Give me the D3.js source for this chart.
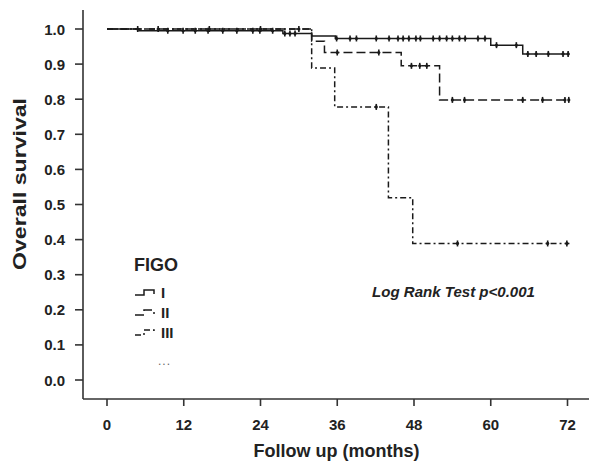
<!DOCTYPE html>
<html>
<head>
<meta charset="utf-8">
<script src="https://cdn.jsdelivr.net/npm/d3@7"></script>
<style>
  body { margin: 0; background: #fff; }
  svg { display: block; }
  text { font-family: "Liberation Sans", Arial, sans-serif; }
</style>
</head>
<body>
<svg id="chart" width="590" height="465"></svg>
<script>
// ---------- data ----------
const xTicks = [0, 12, 24, 36, 48, 60, 72];
const yTicks = [0, 0.1, 0.2, 0.3, 0.4, 0.5, 0.6, 0.7, 0.8, 0.9, 1.0];
const stageNames = ["I", "II", "III"];

const stageI_times = [0, 5, 27.5, 32, 35.7, 60, 65];
const stageI_surv  = [1, 0.995, 0.987, 0.98, 0.973, 0.954, 0.929];
const stageI_censor = [4.8, 9.5, 11.9, 13.8, 15.8, 18.1, 20.3, 22.8, 23.9, 25.9, 27.8, 28.6, 29.4,
  35.9, 38, 39, 42.1, 44.1, 45.5, 46.3, 47.2, 48.3, 49, 51, 52, 53.1, 54, 55.1, 56, 58, 59.1,
  60.9, 64, 65.8, 67.1, 69, 71.3, 72.1];

const stageII_times = [0, 32, 34, 46, 52];
const stageII_surv  = [1, 0.965, 0.933, 0.895, 0.798];
const stageII_censor = [8, 16, 24, 30, 36, 42.5, 47.6, 48.9, 50, 54, 55.9, 65, 68.1, 71.6, 72.2];

const stageIII_times = [0, 32, 35.6, 44, 47.8];
const stageIII_surv  = [1, 0.889, 0.778, 0.519, 0.389];
const stageIII_censor = [42.1, 54.8, 68.9, 71.9];

const endTime = 72.3;

// ---------- layout ----------
const svg = d3.select("#chart");
const x = d3.scaleLinear().domain([0, 72]).range([107, 567.5]);
const y = d3.scaleLinear().domain([0, 1]).range([380, 29]);
const axisColor = "#333";
const lineColor = "#1a1a1a";

// axes
const xAxis = svg.append("g").attr("transform", "translate(0,399)");
xAxis.append("line").attr("x1", 83).attr("x2", 589).attr("y1", 0).attr("y2", 0)
  .attr("stroke", axisColor).attr("stroke-width", 1.6);
xAxis.selectAll("line.tick").data(xTicks).enter().append("line")
  .attr("class", "tick")
  .attr("x1", d => x(d)).attr("x2", d => x(d)).attr("y1", 0).attr("y2", 7)
  .attr("stroke", axisColor).attr("stroke-width", 1.6);
xAxis.selectAll("text").data(xTicks).enter().append("text")
  .attr("x", d => x(d)).attr("y", 31)
  .attr("text-anchor", "middle").attr("font-size", 15).attr("font-weight", "bold")
  .attr("fill", "#222").text(d => d);

const yAxis = svg.append("g").attr("transform", "translate(83,0)");
yAxis.append("line").attr("x1", 0).attr("x2", 0).attr("y1", 10).attr("y2", 399)
  .attr("stroke", axisColor).attr("stroke-width", 1.6);
yAxis.selectAll("line.tick").data(yTicks).enter().append("line")
  .attr("class", "tick")
  .attr("x1", -8).attr("x2", 0).attr("y1", d => y(d)).attr("y2", d => y(d))
  .attr("stroke", axisColor).attr("stroke-width", 1.6);
yAxis.selectAll("text").data(yTicks).enter().append("text")
  .attr("x", -18).attr("y", d => y(d) + 5.5)
  .attr("text-anchor", "end").attr("font-size", 15).attr("font-weight", "bold")
  .attr("fill", "#222").text(d => d3.format(".1f")(d));

// axis titles
svg.append("text").attr("x", 336.5).attr("y", 457)
  .attr("text-anchor", "middle").attr("font-size", 18).attr("font-weight", "bold")
  .attr("fill", "#222").text("Follow up (months)");
svg.append("text")
  .attr("transform", "translate(26,184) rotate(-90)")
  .attr("text-anchor", "middle").attr("font-size", 18).attr("font-weight", "bold")
  .attr("textLength", 172).attr("lengthAdjust", "spacingAndGlyphs")
  .attr("fill", "#222").text("Overall survival");

// ---------- curves ----------
const series = [
  { times: stageI_times, surv: stageI_surv, censor: stageI_censor, dash: null },
  { times: stageII_times, surv: stageII_surv, censor: stageII_censor, dash: "9,4" },
  { times: stageIII_times, surv: stageIII_surv, censor: stageIII_censor, dash: "6,3,2,3" }
];

function survAt(s, t) {
  let v = s.surv[0];
  for (let i = 0; i < s.times.length; i++) if (s.times[i] <= t) v = s.surv[i];
  return v;
}

const line = d3.line().x(d => x(d[0])).y(d => y(d[1])).curve(d3.curveStepAfter);

series.forEach(s => {
  const pts = s.times.map((t, i) => [t, s.surv[i]]);
  pts.push([endTime, s.surv[s.surv.length - 1]]);
  svg.append("path").datum(pts)
    .attr("d", line)
    .attr("fill", "none").attr("stroke", lineColor).attr("stroke-width", 1.5)
    .attr("stroke-dasharray", s.dash);
  svg.selectAll(null).data(s.censor).enter().append("line")
    .attr("x1", d => x(d)).attr("x2", d => x(d))
    .attr("y1", d => y(survAt(s, d)) - 3).attr("y2", d => y(survAt(s, d)) + 3)
    .attr("stroke", lineColor).attr("stroke-width", 1.6);
  svg.selectAll(null).data(s.censor).enter().append("circle")
    .attr("cx", d => x(d)).attr("cy", d => y(survAt(s, d)))
    .attr("r", 1.6).attr("fill", lineColor);
});

// ---------- legend ----------
svg.append("text").attr("x", 134).attr("y", 271)
  .attr("font-size", 18).attr("font-weight", "bold").attr("fill", "#222").text("FIGO");
const legY = [295, 315, 335];
stageNames.forEach((name, i) => {
  const yy = legY[i];
  svg.append("path")
    .attr("d", `M135,${yy} H144 V${yy - 5} H154 V${yy - 1}`)
    .attr("fill", "none").attr("stroke", lineColor).attr("stroke-width", 1.5)
    .attr("stroke-dasharray", series[i].dash);
  svg.append("text").attr("x", 161).attr("y", yy + 3)
    .attr("font-size", 15).attr("font-weight", "bold").attr("fill", "#222").text(name);
});
svg.append("text").attr("x", 158).attr("y", 365)
  .attr("font-size", 12).attr("fill", "#666").attr("letter-spacing", 1).text("...");

// log rank annotation
svg.append("text").attr("x", 372).attr("y", 297)
  .attr("font-size", 14.5).attr("font-weight", "bold").attr("font-style", "italic")
  .attr("textLength", 163).attr("lengthAdjust", "spacingAndGlyphs")
  .attr("fill", "#222").text("Log Rank Test p<0.001");
</script>
</body>
</html>
